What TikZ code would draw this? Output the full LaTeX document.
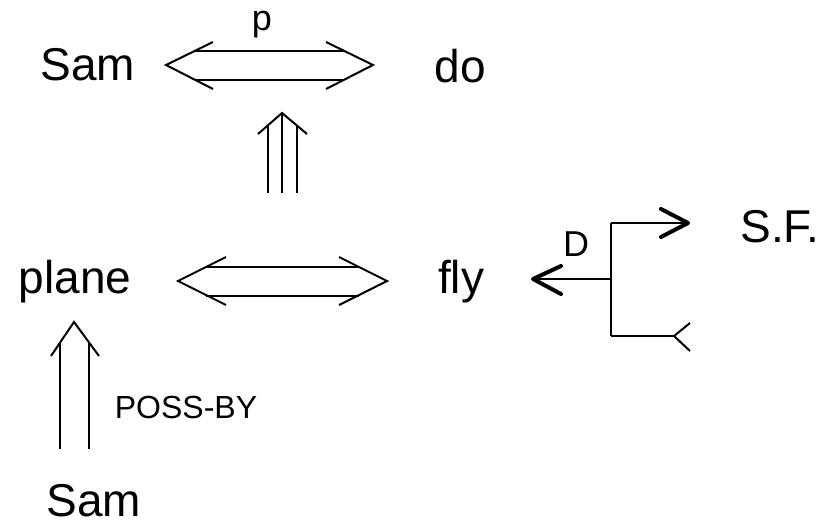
\documentclass[tikz,border=0pt]{standalone}
\usepackage{fontspec}
\setmainfont{Liberation Sans}
\usetikzlibrary{positioning}

\begin{document}
\begin{tikzpicture}[x=1pt,y=-1pt,line width=2pt,
  word/.style={inner sep=0pt,anchor=base,font=\fontsize{46}{55}\selectfont},
  tag/.style={inner sep=0pt,anchor=base,font=\fontsize{32}{38}\selectfont},
  bold/.style={line width=4pt,line cap=round,line join=round}]
\useasboundingbox (0,0) rectangle (826,527);
% words
\node[word] (samA) at (88,80) {Sam};
\node[word] (do) at (460,82) {do};
\node[word] (plane) at (75,293) {plane};
\node[word] (fly) at (461,293) {fly};
\node[word] (sf) at (780,242) {S.F.};
\node[word] (samB) at (94,516) {Sam};
\node[tag,font=\fontsize{36}{43}\selectfont] (p) at (262,31) {p};
\node[tag,font=\fontsize{36}{43}\selectfont] (d) at (576,256) {D};
\node[tag] (poss) at (186,418) {POSS-BY};
% Sam <=> do
\coordinate (tl) at (166,65);
\coordinate (tr) at (373,65);
\draw (213,42) -- (tl) -- (213,89);
\draw (326,42) -- (tr) -- (326,89);
\foreach \y in {51,80}
  \draw (195,\y) -- (344,\y);
% triple arrow up
\coordinate (tt) at (282,113);
\draw (258,134) -- (tt) -- (307,134);
\draw (tt) -- (282,193);
\foreach \x in {268,297}
  \draw (\x,125) -- (\x,193);
% plane <=> fly
\coordinate (ml) at (178,281);
\coordinate (mr) at (387,281);
\draw (226,257) -- (ml) -- (226,305);
\draw (339,257) -- (mr) -- (339,305);
\foreach \y in {267,296}
  \draw (206,\y) -- (359,\y);
% POSS-BY arrow
\coordinate (bt) at (74,322);
\draw (51,356) -- (bt) -- (99,356);
\foreach \x in {60,89}
  \draw (\x,343) -- (\x,449);
% directive D
\coordinate (jt) at (611,223);
\coordinate (jm) at (611,279);
\coordinate (jb) at (611,336);
\coordinate (to) at (688,223);
\coordinate (from) at (533,279);
\coordinate (fork) at (674,336);
\draw (jt) -- (jb);
\draw (jt) -- (to);
\draw (jm) -- (from);
\draw (jb) -- (fork);
\draw[bold] (661,209) -- (to) -- (661,237);
\draw[bold] (561,266) -- (from) -- (561,294);
\draw (690,323) -- (fork) -- (690,351);
\end{tikzpicture}
\end{document}
